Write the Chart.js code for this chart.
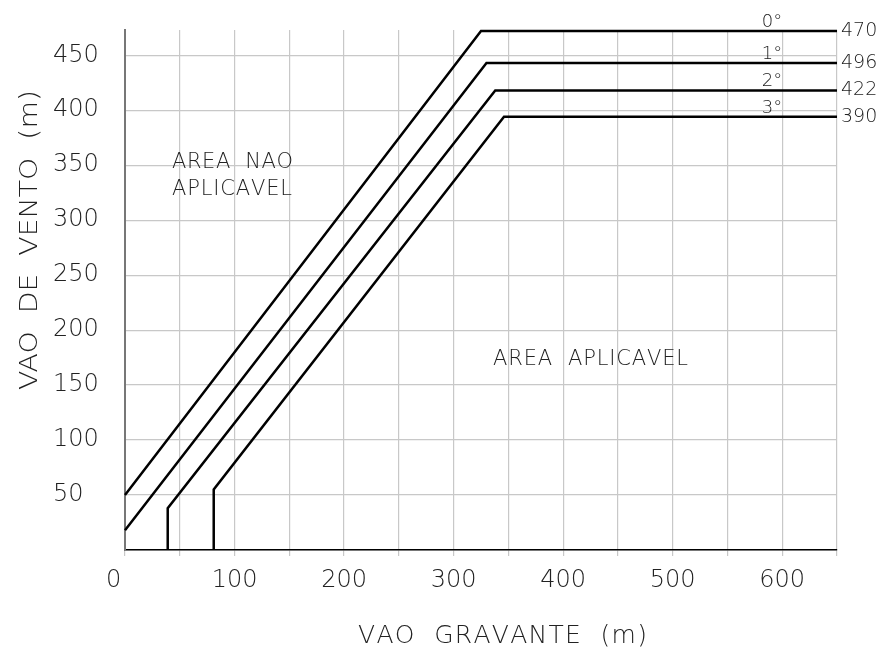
<!DOCTYPE html>
<html>
<head>
<meta charset="utf-8">
<script src="https://cdn.jsdelivr.net/npm/chart.js@4.4.1/dist/chart.umd.min.js"></script>
<style>
  html, body { margin: 0; padding: 0; background: #ffffff; }
  #wrap { width: 884px; height: 649px; position: relative; }
</style>
</head>
<body>
<div id="wrap"><canvas id="chart"></canvas></div>
<script>
const angleLabels = ["0°", "1°", "2°", "3°"];
const endLabels = ["470", "496", "422", "390"];

// vao gravante (x) / vao de vento (y) for each curve
const gravante0 = [0, 325, 650];
const vento0 = [50, 472, 472];
const gravante1 = [0, 330, 650];
const vento1 = [18, 443, 443];
const gravante2 = [39, 39, 338, 650];
const vento2 = [0, 38, 418, 418];
const gravante3 = [81, 81, 346, 650];
const vento3 = [0, 55, 394, 394];

const xTicks = [0, 100, 200, 300, 400, 500, 600];
const yTicks = [50, 100, 150, 200, 250, 300, 350, 400, 450];

const FONT = "'DejaVu Sans', sans-serif";
const INK = "#222222";

function toPoints(xs, ys) {
  return xs.map((x, i) => ({ x: x, y: ys[i] }));
}

const curves = [
  toPoints(gravante0, vento0),
  toPoints(gravante1, vento1),
  toPoints(gravante2, vento2),
  toPoints(gravante3, vento3),
];

// draws text char by char so it spans the given width (CAD style spacing)
function spacedText(ctx, text, left, baseline, width) {
  const chars = Array.from(text);
  const raw = chars.reduce((sum, c) => sum + ctx.measureText(c).width, 0);
  const gap = chars.length > 1 ? (width - raw) / (chars.length - 1) : 0;
  let x = left;
  ctx.textAlign = "left";
  chars.forEach((c) => {
    ctx.fillText(c, x, baseline);
    x += ctx.measureText(c).width + gap;
  });
}

const labelsPlugin = {
  id: "labelsPlugin",
  afterDraw(chart) {
    const ctx = chart.ctx;
    const xs = chart.scales.x;
    const ys = chart.scales.y;
    ctx.save();
    ctx.fillStyle = INK;
    ctx.textBaseline = "alphabetic";

    // axis titles
    ctx.font = "200 25px " + FONT;
    spacedText(ctx, "VAO  GRAVANTE  (m)", 358, 643, 289);

    // y title: glyphs are stretched along the text in the original
    ctx.save();
    ctx.translate(37, 240);
    ctx.rotate(-Math.PI / 2);
    const yTitle = "VAO  DE  VENTO  (m)";
    const natural = ctx.measureText(yTitle).width;
    ctx.scale(300 / natural, 1);
    ctx.textAlign = "center";
    ctx.fillText(yTitle, 0, 0);
    ctx.restore();

    // region notes
    ctx.font = "200 21px " + FONT;
    spacedText(ctx, "AREA  NAO", 172, 168, 121);
    spacedText(ctx, "APLICAVEL", 172, 195, 120);
    spacedText(ctx, "AREA  APLICAVEL", 493, 365, 195);

    // angle labels and end values
    ctx.textBaseline = "middle";
    curves.forEach((pts, i) => {
      const last = pts[pts.length - 1];
      const py = ys.getPixelForValue(last.y);
      const px = xs.getPixelForValue(last.x);
      ctx.font = "200 18px " + FONT;
      ctx.textAlign = "right";
      ctx.fillText(angleLabels[i], xs.getPixelForValue(600), py - 9);
      ctx.font = "200 19px " + FONT;
      ctx.textAlign = "left";
      ctx.fillText(endLabels[i], px + 4, py);
    });
    ctx.restore();
  },
};

new Chart(document.getElementById("chart"), {
  type: "scatter",
  data: {
    datasets: curves.map((pts, i) => ({
      label: angleLabels[i],
      data: pts,
      showLine: true,
      borderColor: "#000000",
      borderWidth: 2.5,
      pointRadius: 0,
      tension: 0,
      clip: 6,
    })),
  },
  options: {
    responsive: true,
    maintainAspectRatio: false,
    animation: false,
    layout: {
      padding: { left: 53, right: 47, top: 30, bottom: 0 },
    },
    plugins: {
      legend: { display: false },
      tooltip: { enabled: false },
    },
    scales: {
      x: {
        type: "linear",
        min: 0,
        max: 650,
        afterFit: (scale) => {
          scale.height = 99;
        },
        border: { color: "#000000", width: 1.5 },
        grid: {
          color: "#c8c8c8",
          lineWidth: 1.2,
          tickLength: 6,
        },
        ticks: {
          stepSize: 50,
          autoSkip: false,
          maxRotation: 0,
          padding: 10,
          color: INK,
          font: { family: FONT, size: 24, weight: "200" },
          callback: function (value) {
            if (value === 0) {
              // the zero sits a little left of the axis in the original
              return "0   ";
            }
            return xTicks.includes(value) ? String(value) : "";
          },
        },
      },
      y: {
        type: "linear",
        min: 0,
        max: 473,
        afterFit: (scale) => {
          scale.width = 72;
        },
        border: { color: "#777777", width: 2 },
        grid: {
          color: "#c8c8c8",
          lineWidth: 1.2,
          drawTicks: false,
        },
        ticks: {
          stepSize: 50,
          includeBounds: false,
          crossAlign: "far",
          padding: 0,
          color: INK,
          font: { family: FONT, size: 24, weight: "200" },
          callback: function (value) {
            return yTicks.includes(value) ? String(value) : "";
          },
        },
      },
    },
  },
  plugins: [labelsPlugin],
});
</script>
</body>
</html>
